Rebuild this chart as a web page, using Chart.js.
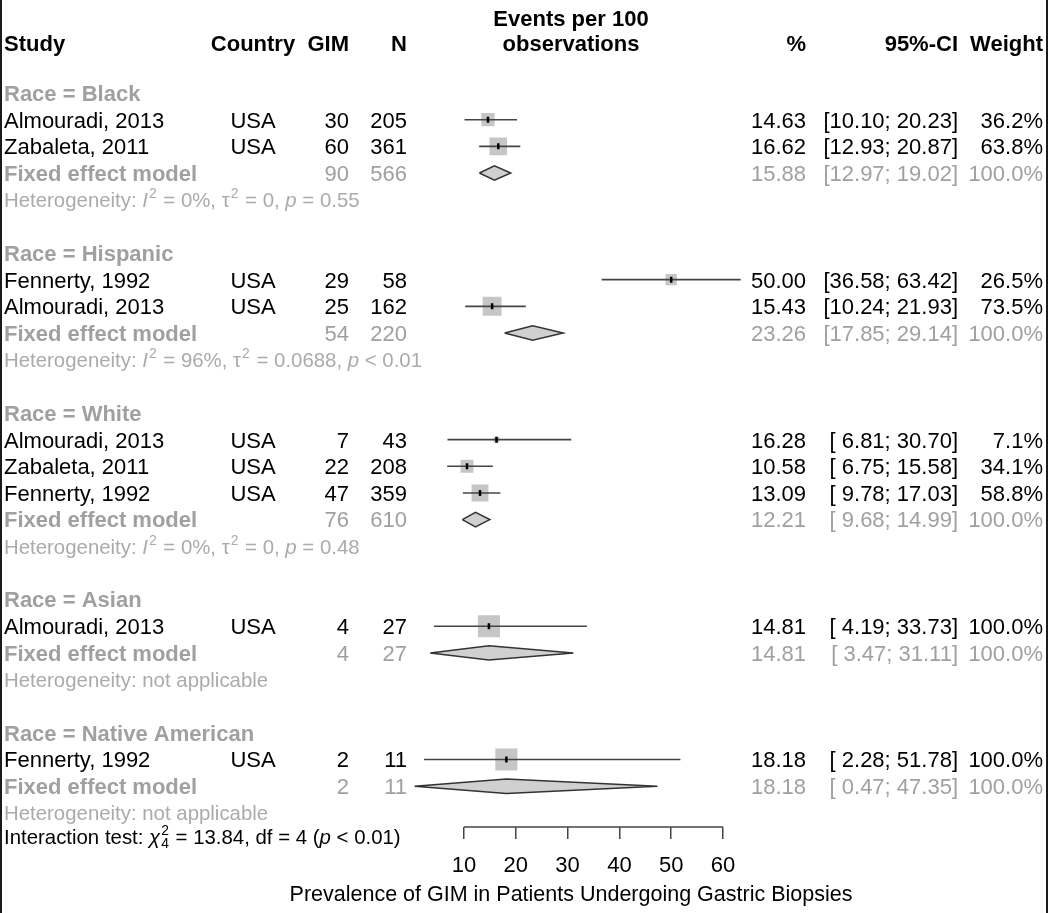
<!DOCTYPE html>
<html>
<head>
<meta charset="utf-8">
<script src="https://cdn.jsdelivr.net/npm/chart.js@4.4.0/dist/chart.umd.min.js"></script>
<style>
  html, body { margin: 0; padding: 0; background: #fff; }
  canvas { display: block; }
</style>
</head>
<body>
<canvas id="forest" width="1050" height="913"></canvas>
<script>
// subgroups
const groupNames = ["Race = Black", "Race = Hispanic", "Race = White", "Race = Asian", "Race = Native American"];

// individual studies
const studyLabels = ["Almouradi, 2013", "Zabaleta, 2011", "Fennerty, 1992", "Almouradi, 2013",
  "Almouradi, 2013", "Zabaleta, 2011", "Fennerty, 1992", "Almouradi, 2013", "Fennerty, 1992"];
const studyGroup = [0, 0, 1, 1, 2, 2, 2, 3, 4];
const studyCountry = ["USA", "USA", "USA", "USA", "USA", "USA", "USA", "USA", "USA"];
const studyGim = [30, 60, 29, 25, 7, 22, 47, 4, 2];
const studyN = [205, 361, 58, 162, 43, 208, 359, 27, 11];
const studyEst = [14.63, 16.62, 50.00, 15.43, 16.28, 10.58, 13.09, 14.81, 18.18];
const studyLower = [10.10, 12.93, 36.58, 10.24, 6.81, 6.75, 9.78, 4.19, 2.28];
const studyUpper = [20.23, 20.87, 63.42, 21.93, 30.70, 15.58, 17.03, 33.73, 51.78];
const studyWeight = [36.2, 63.8, 26.5, 73.5, 7.1, 34.1, 58.8, 100.0, 100.0];

// fixed effect model per subgroup
const pooledGim = [90, 54, 76, 4, 2];
const pooledN = [566, 220, 610, 27, 11];
const pooledEst = [15.88, 23.26, 12.21, 14.81, 18.18];
const pooledLower = [12.97, 17.85, 9.68, 3.47, 0.47];
const pooledUpper = [19.02, 29.14, 14.99, 31.11, 47.35];
const pooledWeight = [100.0, 100.0, 100.0, 100.0, 100.0];

// heterogeneity stats (null = not applicable)
const hetI2 = ["0%", "96%", "0%", null, null];
const hetTau2 = ["0", "0.0688", "0", null, null];
const hetP = ["= 0.55", "< 0.01", "= 0.48", null, null];

const xTicks = [10, 20, 30, 40, 50, 60];
const xTitle = "Prevalence of GIM in Patients Undergoing Gastric Biopsies";

const FONT = '"Liberation Sans", Arial, Helvetica, sans-serif';
const GRAY = "#a0a0a0";
const HET_GRAY = "#ababab";

// work out which row each line of the table sits on
let row = 0;
const groupRows = [], studyRows = [], pooledRows = [], hetRows = [];
groupNames.forEach((g, gi) => {
  groupRows.push(row++);
  studyGroup.forEach((sg, si) => { if (sg === gi) studyRows[si] = row++; });
  pooledRows.push(row++);
  hetRows.push(row++);
  row++; // blank line between groups
});
const interactionRow = hetRows[hetRows.length - 1] + 1;

function fmtCI(lo, hi) {
  const pad = v => (v < 10 ? " " : "") + v.toFixed(2);
  return "[" + pad(lo) + "; " + pad(hi) + "]";
}

function drawText(ctx, str, x, y, opt = {}) {
  const size = opt.size || 22;
  ctx.font = (opt.italic ? "italic " : "") + (opt.bold ? "bold " : "") + size + "px " + FONT;
  ctx.fillStyle = opt.color || "#000";
  ctx.textAlign = opt.align || "left";
  ctx.textBaseline = "alphabetic";
  ctx.fillText(str, x, y + size * 0.358);
}

// text with italic / superscript / subscript pieces, left aligned
function drawRich(ctx, parts, x, y, size, color) {
  const base = y + size * 0.358;
  ctx.fillStyle = color;
  ctx.textAlign = "left";
  ctx.textBaseline = "alphabetic";
  let cx = x;
  parts.forEach(p => {
    if (p.sup !== undefined || p.sub !== undefined) {
      const s = size * 0.68;
      ctx.font = s + "px " + FONT;
      let w = 0;
      if (p.sup !== undefined) {
        ctx.fillText(p.sup, cx + 1, base - size * 0.42);
        w = Math.max(w, ctx.measureText(p.sup).width);
      }
      if (p.sub !== undefined) {
        ctx.fillText(p.sub, cx + 1, base + size * 0.22);
        w = Math.max(w, ctx.measureText(p.sub).width);
      }
      cx += w + 2;
    } else {
      ctx.font = (p.italic ? "italic " : "") + size + "px " + FONT;
      ctx.fillText(p.t, cx, base);
      cx += ctx.measureText(p.t).width;
    }
  });
}

const tablePlugin = {
  id: "forestTable",
  afterDraw(chart) {
    const ctx = chart.ctx;
    const ys = chart.scales.y;
    const xs = chart.scales.x;
    const yp = r => ys.getPixelForValue(r);
    ctx.save();

    // axis line only across the ticked range
    ctx.strokeStyle = "#444";
    ctx.lineWidth = 1.5;
    ctx.beginPath();
    ctx.moveTo(xs.getPixelForValue(xTicks[0]), chart.chartArea.bottom);
    ctx.lineTo(xs.getPixelForValue(xTicks[xTicks.length - 1]), chart.chartArea.bottom);
    ctx.stroke();

    // header
    const hy = yp(-1.88);
    drawText(ctx, "Study", 4, hy, { bold: true });
    drawText(ctx, "Country", 253, hy, { bold: true, align: "center" });
    drawText(ctx, "GIM", 349, hy, { bold: true, align: "right" });
    drawText(ctx, "N", 407, hy, { bold: true, align: "right" });
    drawText(ctx, "Events per 100", 571, yp(-2.8), { bold: true, align: "center" });
    drawText(ctx, "observations", 571, hy, { bold: true, align: "center" });
    drawText(ctx, "%", 806, hy, { bold: true, align: "right" });
    drawText(ctx, "95%-CI", 958, hy, { bold: true, align: "right" });
    drawText(ctx, "Weight", 1043, hy, { bold: true, align: "right" });

    // subgroup titles
    groupNames.forEach((g, i) => drawText(ctx, g, 4, yp(groupRows[i]), { bold: true, color: GRAY }));

    // study rows
    studyLabels.forEach((s, i) => {
      const y = yp(studyRows[i]);
      drawText(ctx, s, 4, y);
      drawText(ctx, studyCountry[i], 253, y, { align: "center" });
      drawText(ctx, String(studyGim[i]), 349, y, { align: "right" });
      drawText(ctx, String(studyN[i]), 407, y, { align: "right" });
      drawText(ctx, studyEst[i].toFixed(2), 806, y, { align: "right" });
      drawText(ctx, fmtCI(studyLower[i], studyUpper[i]), 958, y, { align: "right" });
      drawText(ctx, studyWeight[i].toFixed(1) + "%", 1043, y, { align: "right" });
    });

    // fixed effect rows
    pooledEst.forEach((e, i) => {
      const y = yp(pooledRows[i]);
      drawText(ctx, "Fixed effect model", 4, y, { bold: true, color: GRAY });
      drawText(ctx, String(pooledGim[i]), 349, y, { align: "right", color: GRAY });
      drawText(ctx, String(pooledN[i]), 407, y, { align: "right", color: GRAY });
      drawText(ctx, e.toFixed(2), 806, y, { align: "right", color: GRAY });
      drawText(ctx, fmtCI(pooledLower[i], pooledUpper[i]), 958, y, { align: "right", color: GRAY });
      drawText(ctx, pooledWeight[i].toFixed(1) + "%", 1043, y, { align: "right", color: GRAY });
    });

    // heterogeneity lines
    hetRows.forEach((r, i) => {
      const y = yp(r);
      if (hetI2[i] === null) {
        drawRich(ctx, [{ t: "Heterogeneity: not applicable" }], 4, y, 20.4, HET_GRAY);
      } else {
        drawRich(ctx, [
          { t: "Heterogeneity: " }, { t: "I", italic: true }, { sup: "2" },
          { t: " = " + hetI2[i] + ", \u03c4" }, { sup: "2" },
          { t: " = " + hetTau2[i] + ", " }, { t: "p", italic: true }, { t: " " + hetP[i] }
        ], 4, y, 20.4, HET_GRAY);
      }
    });

    drawRich(ctx, [
      { t: "Interaction test: " }, { t: "\u03c7", italic: true }, { sup: "2", sub: "4" },
      { t: " = 13.84, df = 4 (" }, { t: "p", italic: true }, { t: " < 0.01)" }
    ], 4, yp(interactionRow) - 3, 20.4, "#000");

    // x axis title
    drawText(ctx, xTitle, 571, 893, { align: "center", size: 21.5 });

    // frame lines at left and right edge
    ctx.fillStyle = "#1a1a1a";
    ctx.fillRect(0, 0, 2, chart.height);
    ctx.fillRect(1046, 0, 2, chart.height);
    ctx.restore();
  }
};

// CI whiskers, one small line per study
const ciDatasets = studyLabels.map((s, i) => ({
  data: [{ x: studyLower[i], y: studyRows[i] }, { x: studyUpper[i], y: studyRows[i] }],
  showLine: true,
  borderColor: "#444",
  borderWidth: 1.6,
  pointRadius: 0,
  order: 2
}));

// diamonds for the fixed effect estimates
const diamondHalf = 0.27;
const diamondDatasets = pooledEst.map((e, i) => {
  const r = pooledRows[i];
  return {
    data: [
      { x: pooledLower[i], y: r }, { x: e, y: r - diamondHalf },
      { x: pooledUpper[i], y: r }, { x: e, y: r + diamondHalf },
      { x: pooledLower[i], y: r }
    ],
    showLine: true,
    fill: "shape",
    backgroundColor: "#d0d0d0",
    borderColor: "#333",
    borderWidth: 1.5,
    pointRadius: 0,
    order: 2
  };
});

new Chart(document.getElementById("forest"), {
  type: "scatter",
  data: {
    datasets: [
      {
        // study weight squares
        data: studyEst.map((v, i) => ({ x: v, y: studyRows[i] })),
        pointStyle: "rect",
        pointRadius: c => 15.6 * Math.sqrt(studyWeight[c.dataIndex] / 100),
        backgroundColor: "#c6c6c6",
        borderWidth: 0,
        order: 3
      },
      ...ciDatasets,
      ...diamondDatasets,
      {
        // point estimate marks
        data: studyEst.map((v, i) => ({ x: v, y: studyRows[i] })),
        pointStyle: "line",
        rotation: 90,
        pointRadius: 3,
        borderColor: "#000",
        borderWidth: 2.5,
        order: 1
      }
    ]
  },
  options: {
    responsive: false,
    animation: false,
    events: [],
    layout: { padding: { left: 412.2, right: 275.2, top: 2, bottom: 0 } },
    plugins: { legend: { display: false }, tooltip: { enabled: false } },
    scales: {
      x: {
        type: "linear",
        min: 0,
        max: 70,
        afterBuildTicks: s => { s.ticks = xTicks.map(v => ({ value: v })); },
        afterFit: s => { s.height = 86; },
        ticks: { color: "#000", font: { family: FONT, size: 22 }, padding: 14, maxRotation: 0, autoSkip: false },
        grid: { drawOnChartArea: false, drawTicks: true, tickLength: 12, color: "#444", lineWidth: 1.5 },
        border: { display: false }
      },
      y: {
        type: "linear",
        reverse: true,
        min: -2.905,
        max: 27.53,
        display: false
      }
    }
  },
  plugins: [tablePlugin]
});
</script>
</body>
</html>
